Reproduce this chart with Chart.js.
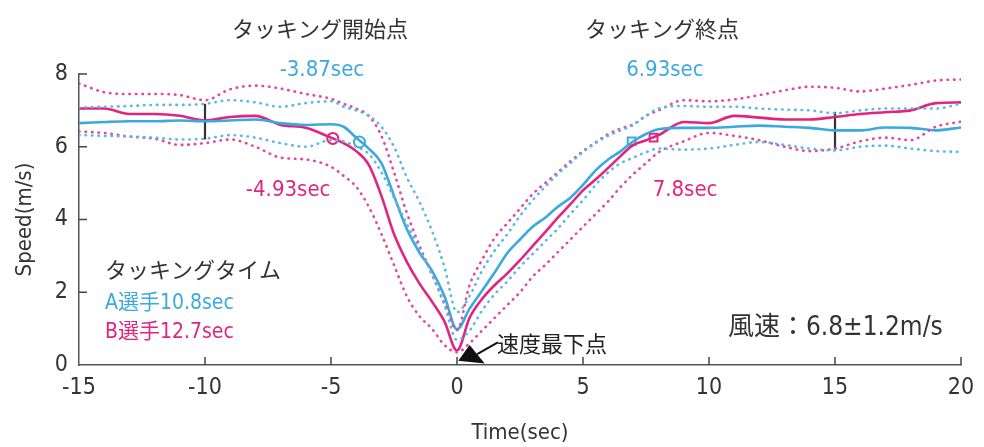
<!DOCTYPE html>
<html><head><meta charset="utf-8">
<script src="https://cdn.jsdelivr.net/npm/chart.js@4/dist/chart.umd.min.js"></script>
<style>html,body{margin:0;padding:0;background:#fff}#wrap{width:984px;height:447px}</style>
</head><body><div id="wrap"><canvas id="c" width="984" height="447"></canvas></div>
<script>
const times = [-15,-14,-13,-12,-11,-10,-9,-8,-7,-6,-5,-4.5,-4,-3.5,-3,-2.5,-2,-1.5,-1,-0.5,0,0.5,1,1.5,2,2.5,3,3.5,4,4.5,5,5.5,6,6.5,7,7.5,8,9,10,11,12,13,14,15,16,17,18,19,20];
const aMean  = [6.65,6.68,6.7,6.7,6.72,6.7,6.72,6.75,6.65,6.6,6.62,6.55,6.25,5.95,5.55,4.65,3.75,3.1,2.6,1.9,0.98,1.55,2.05,2.55,3.08,3.45,3.8,4.05,4.35,4.6,4.95,5.35,5.65,5.88,6.15,6.35,6.48,6.52,6.52,6.55,6.58,6.55,6.52,6.45,6.45,6.53,6.52,6.45,6.53];
const aUpper = [7.08,7.1,7.12,7.15,7.15,7.18,7.28,7.22,7.1,7.2,7.25,7.1,7.0,6.85,6.55,6.0,5.17,4.5,3.7,2.7,1.45,1.9,2.6,3.15,3.6,4.1,4.53,4.9,5.25,5.55,5.85,6.1,6.3,6.45,6.6,6.85,7.05,7.12,7.1,7.1,7.05,7.02,7.0,6.92,7.0,7.05,7.05,7.05,7.19];
const aLower = [6.32,6.3,6.28,6.25,6.2,6.22,6.32,6.25,6.1,6.0,6.18,6.15,6.0,5.8,5.3,4.6,3.89,3.2,2.5,1.65,0.69,0.95,1.5,1.95,2.3,2.7,3.05,3.4,3.75,4.15,4.53,4.95,5.3,5.55,5.7,5.85,5.95,5.92,5.95,6.05,6.13,6.05,5.95,5.9,6.0,6.03,5.95,5.88,5.86];
const bMean  = [7.05,7.05,6.9,6.9,6.85,6.72,6.82,6.85,6.6,6.52,6.25,6.1,5.88,5.5,4.65,3.6,2.85,2.25,1.75,1.2,0.4,1.3,1.82,2.2,2.52,2.88,3.27,3.65,4.05,4.42,4.8,5.1,5.42,5.75,6.05,6.18,6.32,6.68,6.65,6.85,6.8,6.75,6.75,6.82,6.9,6.95,7.0,7.2,7.22];
const bUpper = [7.74,7.5,7.45,7.45,7.42,7.28,7.58,7.68,7.6,7.45,7.32,7.18,7.05,6.85,6.3,5.3,4.2,3.3,2.5,1.7,0.96,2.2,2.9,3.5,3.9,4.3,4.7,5.0,5.3,5.6,5.88,6.12,6.35,6.5,6.62,6.85,7.0,7.28,7.25,7.3,7.42,7.55,7.65,7.62,7.52,7.6,7.7,7.82,7.85];
const bLower = [6.42,6.38,6.28,6.22,6.05,6.1,6.2,6.0,5.7,5.65,5.45,5.2,4.9,4.35,3.6,2.75,1.9,1.35,1.0,0.55,0.35,0.6,0.95,1.3,1.65,2.0,2.43,2.75,3.1,3.45,3.8,4.15,4.5,4.9,5.25,5.55,5.85,6.15,6.38,6.3,6.18,6.0,5.88,5.95,6.15,6.25,6.18,6.55,6.69];

const startTimes = [-3.87, -4.93];   // A, B tacking start
const startSpeeds = [6.13, 6.23];
const endTimes = [6.93, 7.8];        // A, B tacking end
const endSpeeds = [6.15, 6.25];

const errBarTimes = [-10, 15];
const errBarLow = [6.2, 5.9];
const errBarHigh = [7.18, 6.96];

const xTickValues = [-15,-10,-5,0,5,10,15,20];
const yTickValues = [0,2,4,6,8];

const BLUE = '#3aa9de', PINK = '#e2247f';
const BLUE_D = '#5cb8e4', PINK_D = '#e6479a';
const LAT = "'Liberation Sans Narrow','DejaVu Sans Condensed','Noto Sans CJK JP',sans-serif";
const JP = "'Noto Sans CJK JP','Liberation Sans Narrow',sans-serif";

const pts = arr => times.map((t,i)=>({x:t,y:arr[i]}));
const dotted = (arr,col)=>({data:pts(arr),borderColor:col,borderWidth:2.6,borderDash:[0.5,6],borderCapStyle:'round',pointRadius:0,fill:false,cubicInterpolationMode:'monotone'});
const solid = (arr,col)=>({data:pts(arr),borderColor:col,borderWidth:2.6,pointRadius:0,fill:false,cubicInterpolationMode:'monotone'});

const datasets = [
  dotted(aUpper,BLUE_D), dotted(aLower,BLUE_D),
  dotted(bUpper,PINK_D), dotted(bLower,PINK_D),
  solid(aMean,BLUE), solid(bMean,PINK),
];
errBarTimes.forEach((t,i)=>datasets.push({data:[{x:t,y:errBarLow[i]},{x:t,y:errBarHigh[i]}],borderColor:'#333',borderWidth:2.2,pointRadius:0,tension:0}));
datasets.push({data:[{x:startTimes[0],y:startSpeeds[0]}],showLine:false,pointStyle:'circle',pointRadius:5.5,pointBorderWidth:2,pointBorderColor:BLUE,pointBackgroundColor:'rgba(0,0,0,0)'});
datasets.push({data:[{x:startTimes[1],y:startSpeeds[1]}],showLine:false,pointStyle:'circle',pointRadius:5.5,pointBorderWidth:2,pointBorderColor:PINK,pointBackgroundColor:'rgba(0,0,0,0)'});
datasets.push({data:[{x:endTimes[0],y:endSpeeds[0]}],showLine:false,pointStyle:'rect',pointRadius:5.5,pointBorderWidth:2,pointBorderColor:BLUE,pointBackgroundColor:'rgba(0,0,0,0)'});
datasets.push({data:[{x:endTimes[1],y:endSpeeds[1]}],showLine:false,pointStyle:'rect',pointRadius:5.5,pointBorderWidth:2,pointBorderColor:PINK,pointBackgroundColor:'rgba(0,0,0,0)'});

const texts = [
  {t:'タッキング開始点', x:-5.44, y:9.26, c:'#333', f:'22px '+JP, a:'center'},
  {t:'-3.87sec', x:-5.36, y:8.1, c:BLUE, f:'22px '+LAT, a:'center'},
  {t:'タッキング終点', x:8.13, y:9.26, c:'#333', f:'22px '+JP, a:'center'},
  {t:'6.93sec', x:8.25, y:8.1, c:BLUE, f:'22px '+LAT, a:'center'},
  {t:'-4.93sec', x:-6.7, y:4.81, c:PINK, f:'22px '+LAT, a:'center'},
  {t:'7.8sec', x:9.05, y:4.81, c:PINK, f:'22px '+LAT, a:'center'},
  {t:'タッキングタイム', x:-13.97, y:2.61, c:'#333', f:'22px '+JP, a:'left'},
  {t:'A選手10.8sec', x:-13.97, y:1.7, c:BLUE, f:'21px '+LAT, a:'left'},
  {t:'B選手12.7sec', x:-13.97, y:0.88, c:PINK, f:'21px '+LAT, a:'left'},
  {t:'風速：6.8±1.2m/s', x:10.75, y:1.02, c:'#333', f:'26px '+LAT, a:'left'},
  {t:'速度最下点', x:1.59, y:0.6, c:'#222', f:'22px '+JP, a:'left'},
];

const deco = {
  id:'deco',
  afterDatasetsDraw(chart){
    const {ctx, scales:{x,y}} = chart;
    ctx.save();
    ctx.strokeStyle='#444'; ctx.lineWidth=1.5;
    xTickValues.forEach(v=>{ if(v===-15) return; const px=x.getPixelForValue(v); ctx.beginPath(); ctx.moveTo(px,y.bottom); ctx.lineTo(px,y.bottom-8); ctx.stroke();});
    yTickValues.forEach(v=>{ if(v===0) return; const py=y.getPixelForValue(v); ctx.beginPath(); ctx.moveTo(x.left,py); ctx.lineTo(x.left+8,py); ctx.stroke();});
    const P=(a,b)=>[x.getPixelForValue(a),y.getPixelForValue(b)];
    const tip=P(0.05,0.12), c1=P(0.5,0.55), c2=P(1.1,0.04), tail=P(1.62,0.62), mid=P(0.8,0.3);
    ctx.fillStyle='#111'; ctx.beginPath(); ctx.moveTo(...tip); ctx.lineTo(...c1); ctx.lineTo(...c2); ctx.closePath(); ctx.fill();
    ctx.strokeStyle='#111'; ctx.lineWidth=2; ctx.beginPath(); ctx.moveTo(...mid); ctx.lineTo(...tail); ctx.stroke();
    ctx.textBaseline='middle';
    texts.forEach(o=>{ ctx.font=o.f; ctx.fillStyle=o.c; ctx.textAlign=o.a; ctx.fillText(o.t, x.getPixelForValue(o.x), y.getPixelForValue(o.y)); });
    ctx.restore();
  }
};

new Chart(document.getElementById('c'), {
  type:'line',
  data:{datasets},
  options:{
    responsive:false, animation:false, events:[],
    layout:{padding:{left:8,top:74,right:23,bottom:0}},
    plugins:{legend:{display:false},tooltip:{enabled:false}},
    scales:{
      x:{type:'linear',min:-15,max:20,
        afterBuildTicks:s=>{s.ticks=xTickValues.map(v=>({value:v}));},
        afterFit:s=>{s.height=82;},
        grid:{display:true,drawOnChartArea:false,drawTicks:false},
        border:{display:true,color:'#555',width:1.5},
        ticks:{padding:9,color:'#333',font:{family:LAT,size:23}},
        title:{display:true,text:'Time(sec)',color:'#333',font:{family:LAT,size:22},padding:{top:0,bottom:1}}
      },
      y:{type:'linear',min:0,max:8,
        afterBuildTicks:s=>{s.ticks=yTickValues.map(v=>({value:v}));},
        afterFit:s=>{s.width=71;},
        grid:{display:true,drawOnChartArea:false,drawTicks:false},
        border:{display:true,color:'#555',width:1.5},
        ticks:{padding:11,color:'#333',font:{family:LAT,size:23}},
        title:{display:true,text:'Speed(m/s)',color:'#333',font:{family:LAT,size:22},padding:{top:4,bottom:0}}
      }
    }
  },
  plugins:[deco]
});
</script></body></html>
